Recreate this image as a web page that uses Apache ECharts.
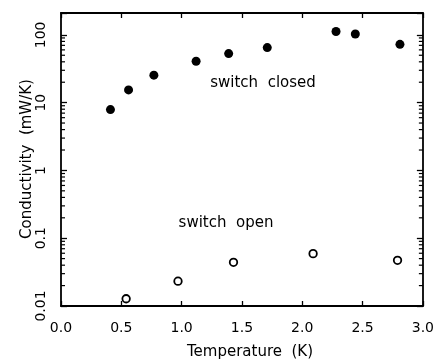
<!DOCTYPE html>
<html>
<head>
<meta charset="utf-8">
<script src="https://cdn.jsdelivr.net/npm/echarts@6/dist/echarts.min.js"></script>
<style>html,body{margin:0;padding:0;background:#fff}#c{width:437px;height:360px}</style>
</head>
<body>
<div id="c"></div>
<script>
// Data
var closedT = [0.41, 0.56, 0.77, 1.12, 1.39, 1.71, 2.28, 2.44, 2.81];
var closedK = [7.9, 15.4, 25.4, 40.8, 52.9, 64.9, 112, 103, 72.5];
var openT = [0.54, 0.97, 1.43, 2.09, 2.79];
var openK = [0.0128, 0.0232, 0.0441, 0.0592, 0.0472];
var xTicks = ['0.0', '0.5', '1.0', '1.5', '2.0', '2.5', '3.0'];
var yTickLabels = ['0.01', '0.1', '1', '10', '100'];
var minorTicks = [0.02,0.03,0.04,0.05,0.06,0.07,0.08,0.09,
                  0.2,0.3,0.4,0.5,0.6,0.7,0.8,0.9,
                  2,3,4,5,6,7,8,9,
                  20,30,40,50,60,70,80,90];

var FONT = 'DejaVu Sans';
var chart = echarts.init(document.getElementById('c'), null, {renderer: 'canvas'});

function zip(a, b) { return a.map(function (v, i) { return [v, b[i]]; }); }

var yLabelFmt = function (v) {
  var l = Math.log10(v);
  if (Math.abs(l - Math.round(l)) > 1e-6) return '';
  var s = String(Number(v.toPrecision(3)));
  return yTickLabels.indexOf(s) >= 0 ? s : '';
};

var AX = {color: '#000', width: 1.8};
var option = {
  animation: false,
  backgroundColor: '#fff',
  grid: {left: 61, right: 12, top: 13, bottom: 54, containLabel: false},
  xAxis: [{
    type: 'value', min: 0, max: 3, interval: 0.5, position: 'bottom',
    axisLine: {show: true, onZero: false, lineStyle: AX},
    axisTick: {show: true, inside: true, length: 5, lineStyle: {color: '#000', width: 1.3}},
    axisLabel: {margin: 15, color: '#000', fontFamily: FONT, fontSize: 14,
      formatter: function (v) { var s = v.toFixed(1); return xTicks.indexOf(s) >= 0 ? s : ''; }},
    splitLine: {show: false}
  }, {
    type: 'value', min: 0, max: 3, interval: 0.5, position: 'top',
    axisLine: {show: true, onZero: false, lineStyle: AX},
    axisTick: {show: true, inside: true, length: 5, lineStyle: {color: '#000', width: 1.3}},
    axisLabel: {show: false}, splitLine: {show: false}
  }],
  yAxis: [{
    type: 'log', logBase: 10, min: 0.01, max: 210, position: 'left',
    axisLine: {show: true, onZero: false, lineStyle: AX},
    axisTick: {show: true, inside: true, length: 6, lineStyle: {color: '#000', width: 1.3}},
    axisLabel: {rotate: 90, margin: 13, color: '#000', fontFamily: FONT, fontSize: 14, formatter: yLabelFmt},
    splitLine: {show: false}, minorTick: {show: false}
  }, {
    type: 'log', logBase: 10, min: 0.01, max: 210, position: 'right',
    axisLine: {show: true, onZero: false, lineStyle: AX},
    axisTick: {show: true, inside: true, length: 6, lineStyle: {color: '#000', width: 1.3}},
    axisLabel: {show: false}, splitLine: {show: false}
  }],
  series: [{
    type: 'custom', xAxisIndex: 0, yAxisIndex: 0, silent: true, clip: false,
    data: minorTicks.map(function (v) { return [1, v]; }),
    renderItem: function (params, api) {
      var v = api.value(1);
      var p0 = api.coord([0, v]);
      var p1 = api.coord([3, v]);
      return {type: 'group', children: [
        {type: 'line', shape: {x1: p0[0], y1: p0[1], x2: p0[0] + 4, y2: p0[1]}, style: {stroke: '#000', lineWidth: 1.2}},
        {type: 'line', shape: {x1: p1[0] - 4, y1: p1[1], x2: p1[0], y2: p1[1]}, style: {stroke: '#000', lineWidth: 1.2}}
      ]};
    }
  }, {
    name: 'switch closed', type: 'scatter', xAxisIndex: 0, yAxisIndex: 0,
    data: zip(closedT, closedK), symbol: 'circle', symbolSize: 9,
    itemStyle: {color: '#000', opacity: 1}
  }, {
    name: 'switch open', type: 'scatter', xAxisIndex: 0, yAxisIndex: 0,
    data: zip(openT, openK), symbol: 'circle', symbolSize: 7.5,
    itemStyle: {color: '#fff', borderColor: '#000', borderWidth: 1.8, opacity: 1}
  }],
  graphic: [
    {type: 'text', x: 263, y: 83, style: {text: 'switch  closed', font: '15px "DejaVu Sans"', fill: '#000', align: 'center', verticalAlign: 'middle'}},
    {type: 'text', x: 226, y: 223, style: {text: 'switch  open', font: '15px "DejaVu Sans"', fill: '#000', align: 'center', verticalAlign: 'middle'}},
    {type: 'text', x: 250, y: 352, style: {text: 'Temperature  (K)', font: '15px "DejaVu Sans"', fill: '#000', align: 'center', verticalAlign: 'middle'}},
    {type: 'text', x: 27, y: 159, rotation: Math.PI / 2, style: {text: 'Conductivity  (mW/K)', font: '15px "DejaVu Sans"', fill: '#000', align: 'center', verticalAlign: 'middle'}}
  ]
};
chart.setOption(option);
</script>
</body>
</html>
